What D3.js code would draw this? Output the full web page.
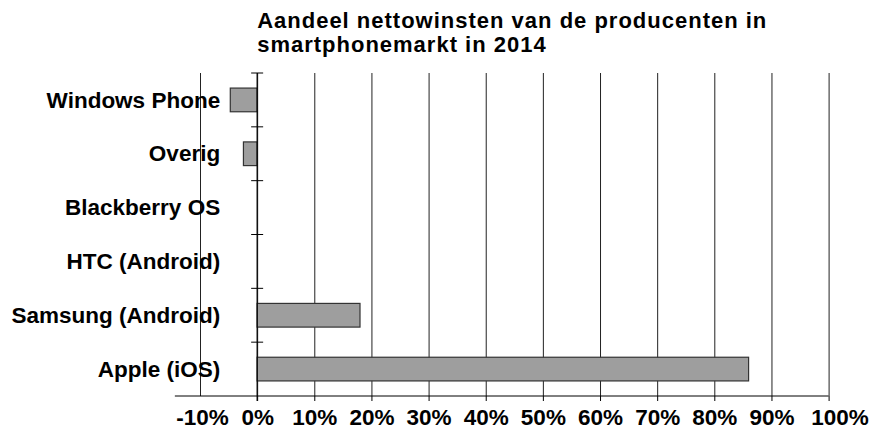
<!DOCTYPE html>
<html>
<head>
<meta charset="utf-8">
<script src="https://cdn.jsdelivr.net/npm/d3@7"></script>
<style>
  body { margin: 0; background: #fff; }
  text { font-family: "Liberation Sans", Arial, sans-serif; font-weight: bold; fill: #000; }
</style>
</head>
<body>
<div id="chart"></div>
<script>
// profit share per maker, 2014 (percent)
var categories = ["Windows Phone", "Overig", "Blackberry OS", "HTC (Android)", "Samsung (Android)", "Apple (iOS)"];
var shares = [-4.7, -2.4, 0, 0, 18, 86];
var tickValues = [-10, 0, 10, 20, 30, 40, 50, 60, 70, 80, 90, 100];
var titleLines = ["Aandeel nettowinsten van de producenten in", "smartphonemarkt in 2014"];

var data = categories.map(function(c, i) { return { name: c, value: shares[i] }; });

var svgWidth = 874, svgHeight = 429;
var plotTop = 73, plotBottom = 396;

var svg = d3.select("#chart").append("svg")
    .attr("width", svgWidth)
    .attr("height", svgHeight);

var x = d3.scaleLinear()
    .domain([-10, 100])
    .range([200, 828.6]);

// slots used for the boundary ticks
var slot = d3.scaleBand()
    .domain(categories)
    .range([plotTop, plotBottom]);

// bars sit centred in each slot
var y = d3.scaleBand()
    .domain(categories)
    .range([plotTop, plotBottom])
    .paddingInner(0.56)
    .paddingOuter(0.28);

// vertical grid lines
svg.append("g")
    .attr("transform", "translate(0," + plotBottom + ")")
    .call(d3.axisBottom(x).tickValues(tickValues).tickSize(-(plotBottom - plotTop)).tickFormat(""))
    .call(function(g) { g.select(".domain").remove(); })
    .selectAll("line")
    .attr("stroke", "#222");

// bottom axis line, runs a bit past -10% like the original
svg.append("line")
    .attr("x1", x(-14.4)).attr("x2", x(100))
    .attr("y1", plotBottom).attr("y2", plotBottom)
    .attr("stroke", "#000");

// ticks below axis + labels
var xAxis = svg.append("g")
    .attr("transform", "translate(0," + plotBottom + ")")
    .call(d3.axisBottom(x).tickValues(tickValues).tickSize(5).tickPadding(8)
        .tickFormat(function(d) { return d + "%"; }))
    .call(function(g) { g.select(".domain").remove(); });

xAxis.selectAll("line")
    .attr("stroke", "#000")
    .attr("opacity", function(d) { return d < 0 ? 0 : 1; });

xAxis.selectAll("text")
    .style("font-size", "22.5px")
    .style("font-family", "'Liberation Sans', Arial, sans-serif")
    .style("font-weight", "bold")
    .attr("fill", "#000")
    .attr("dx", function(d) { return d === 100 ? 11 : (d < 0 ? 2 : 0); });

// bars
svg.selectAll(".bar")
    .data(data)
    .enter().append("rect")
    .attr("class", "bar")
    .attr("x", function(d) { return x(Math.min(0, d.value)); })
    .attr("y", function(d) { return y(d.name); })
    .attr("width", function(d) { return Math.abs(x(d.value) - x(0)); })
    .attr("height", y.bandwidth())
    .attr("fill", "#9e9e9e")
    .attr("stroke", "#333")
    .attr("stroke-width", 1.2);

// zero axis
svg.append("line")
    .attr("x1", x(0)).attr("x2", x(0))
    .attr("y1", plotTop).attr("y2", plotBottom + 5)
    .attr("stroke", "#000")
    .attr("stroke-width", 1.2);

// cross ticks on category boundaries
svg.selectAll(".cat-tick")
    .data(categories)
    .enter().append("line")
    .attr("class", "cat-tick")
    .attr("x1", x(0) - 6).attr("x2", x(0) + 6)
    .attr("y1", function(d) { return slot(d); })
    .attr("y2", function(d) { return slot(d); })
    .attr("stroke", "#000");

// category labels
var yAxis = svg.append("g")
    .attr("transform", "translate(" + x(0) + ",0)")
    .call(d3.axisLeft(y).tickSize(0).tickPadding(37))
    .call(function(g) { g.select(".domain").remove(); });

yAxis.selectAll("text")
    .style("font-size", "22.5px")
    .style("font-family", "'Liberation Sans', Arial, sans-serif")
    .style("font-weight", "bold")
    .attr("fill", "#000")
    .attr("dy", "0.34em");

// title
svg.append("text")
    .attr("x", x(0))
    .attr("y", 28)
    .style("font-size", "22px")
    .style("letter-spacing", "1px")
    .selectAll("tspan")
    .data(titleLines)
    .enter().append("tspan")
    .attr("x", x(0))
    .attr("dy", function(d, i) { return i === 0 ? 0 : 24; })
    .text(function(d) { return d; });
</script>
</body>
</html>
